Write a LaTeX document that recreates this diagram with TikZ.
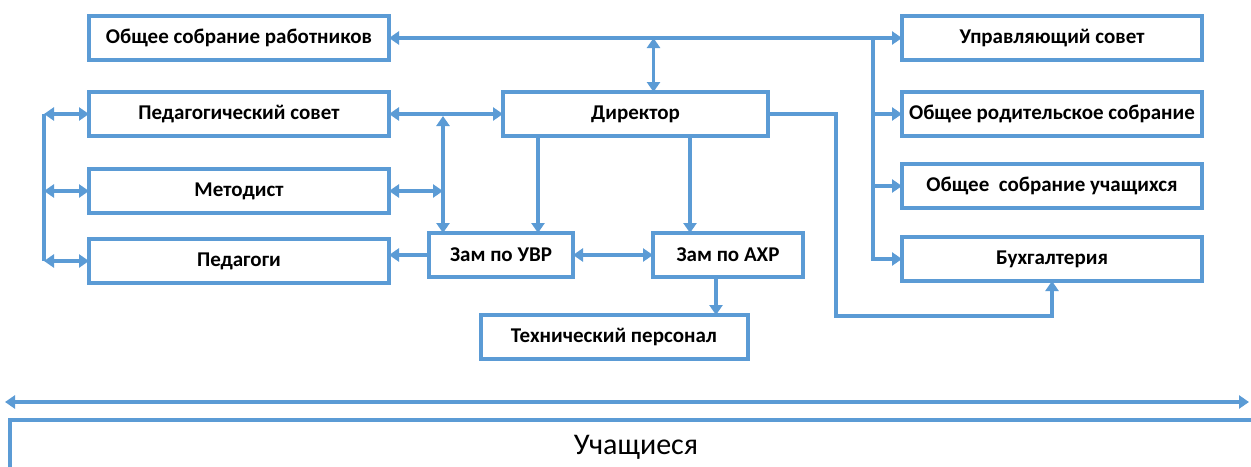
\documentclass[tikz,border=0pt]{standalone}
\usepackage{fontspec}
\setmainfont{Carlito}
\usetikzlibrary{arrows.meta, graphs, positioning}
\definecolor{orgblue}{RGB}{91,155,213}

\begin{document}
\begin{tikzpicture}[node distance=10pt, >={Triangle[width=6.5pt,length=5pt]},
    box/.style={draw=orgblue, line width=2pt, outer sep=0pt, minimum height=22pt,
        font=\bfseries\fontsize{10.5}{12}\selectfont},
    link/.style={draw=orgblue, line width=1.6pt}]
    \useasboundingbox (0,0) rectangle (625.5pt,-233pt);

    \node[box, minimum width=150pt] (Staff Meeting) at (119.5pt,-19pt) {Общее собрание работников};
    \node[box, minimum width=150pt, below=16pt of Staff Meeting]              (Ped Council)    {Педагогический совет};
    \node[box, minimum width=150pt, below=16.5pt of Ped Council]              (Methodist)      {Методист};
    \node[box, minimum width=150pt, below=13pt of Methodist]                  (Teachers)       {Педагоги};
    \node[box, minimum width=132.5pt, right=57pt of Ped Council]              (Director)       {Директор};
    \node[box, minimum width=72pt, right=20pt of Teachers, yshift=3pt]        (Deputy UVR)     {Зам по УВР};
    \node[box, minimum width=75pt, right=40pt of Deputy UVR]                  (Deputy AXR)     {Зам по АХР};
    \node[box, minimum width=133.5pt, below=19pt of Deputy AXR, xshift=-57pt] (Tech Staff)     {Технический персонал};
    \node[box, minimum width=150pt, right=256.5pt of Staff Meeting]           (Gov Council)    {Управляющий совет};
    \node[box, minimum width=150pt, below=16pt of Gov Council]                (Parent Meeting) {Общее родительское собрание};
    \node[box, minimum width=150pt, below=14pt of Parent Meeting]             (Pupil Meeting)  {Общее~~собрание учащихся};
    \node[box, minimum width=150pt, below=14.5pt of Pupil Meeting]            (Accounting)     {Бухгалтерия};
    \node[box, minimum width=626pt, minimum height=27pt, line width=1.6pt, font=\fontsize{15}{18}\selectfont,
        below=30.5pt of Tech Staff, xshift=11pt]                              (Pupils)         {Учащиеся};
    \coordinate (Pupils Left)  at (2.5pt,-201pt);
    \coordinate (Pupils Right) at (624.5pt,-201pt);

    \graph[edges={link}]{
        (Staff Meeting) <-> (Gov Council);
        (Ped Council) <-> (Director);
        (Deputy UVR) <-> (Deputy AXR);
        (Pupils Left) <-> (Pupils Right);
    };

    \draw[link, <->] ([xshift=9pt]Director.north) -- ([xshift=9pt]Director.north |- Staff Meeting.east);
    \draw[link, ->] ([xshift=-14.5pt]Gov Council.west) |- (Accounting.west);
    \draw[link, ->] ([xshift=-14.5pt]Gov Council.west |- Parent Meeting.west) -- (Parent Meeting.west);
    \draw[link, ->] ([xshift=-14.5pt]Gov Council.west |- Pupil Meeting.west) -- (Pupil Meeting.west);
    \draw[link, ->] (Director.east) -- ++(34pt,0) |- ([yshift=-17.5pt]Accounting.south) -- (Accounting.south);

    \draw[link, <->] ([xshift=-29pt, yshift=-1pt]Deputy UVR.north |- Ped Council.east) -- ([xshift=-29pt]Deputy UVR.north);
    \draw[link, <->] (Methodist.east) -- ([xshift=-29pt]Deputy UVR.north |- Methodist.east);
    \draw[link, ->] ([xshift=18.5pt]Deputy UVR.north |- Director.south) -- ([xshift=18.5pt]Deputy UVR.north);
    \draw[link, ->] ([xshift=-19pt]Deputy AXR.north |- Director.south) -- ([xshift=-19pt]Deputy AXR.north);
    \draw[link, ->] (Deputy UVR.west) -- (Deputy UVR.west -| Teachers.east);
    \draw[link, ->] ([xshift=-6pt]Deputy AXR.south) -- ([xshift=-6pt]Deputy AXR.south |- Tech Staff.north);

    \draw[link] ([xshift=-22.5pt]Ped Council.west) -- ([xshift=-22.5pt]Teachers.west);
    \draw[link, <->] ([xshift=-22.5pt]Ped Council.west) -- (Ped Council.west);
    \draw[link, <->] ([xshift=-22.5pt]Methodist.west) -- (Methodist.west);
    \draw[link, <->] ([xshift=-22.5pt]Teachers.west) -- (Teachers.west);
\end{tikzpicture}
\end{document}
